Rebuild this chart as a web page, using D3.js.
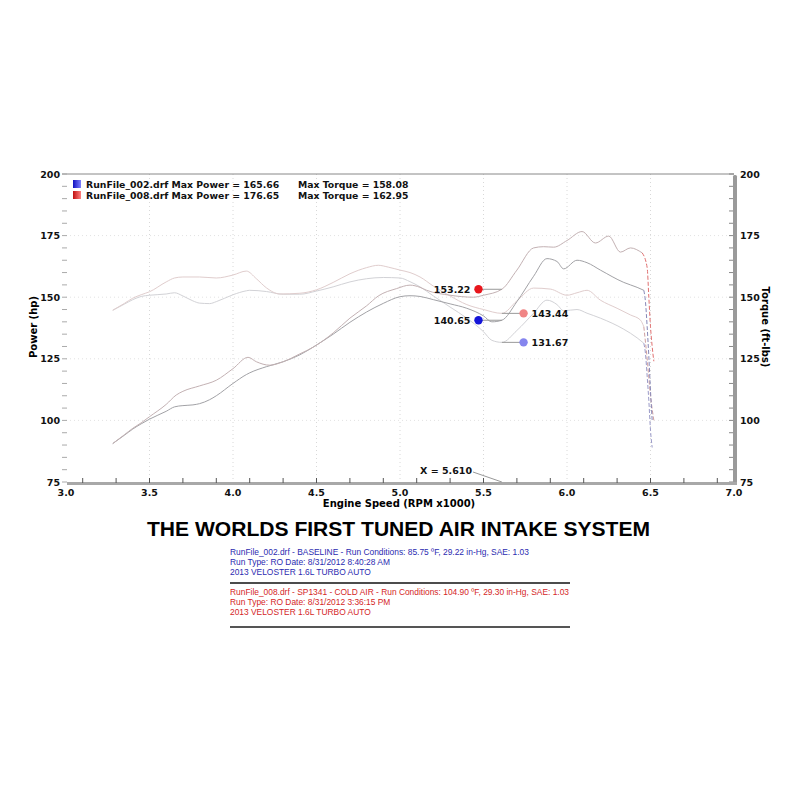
<!DOCTYPE html>
<html><head><meta charset="utf-8">
<script src="https://cdn.jsdelivr.net/npm/d3@7"></script>
<style>body{margin:0;background:#fff}</style>
</head><body><svg id="c" width="800" height="800"></svg>
<script>
// ---- data ----
const baselineRpm    = [3.28,3.35,3.4,3.45,3.5,3.6,3.65,3.7,3.76,3.8,3.86,3.9,4.0,4.08,4.1,4.2,4.3,4.4,4.5,4.6,4.7,4.8,4.9,5.0,5.06,5.12,5.2,5.3,5.4,5.5,5.55,5.61,5.7,5.8,5.88,5.94,5.98,6.06,6.12,6.2,6.34,6.42,6.46,6.47,6.48,6.49,6.5,6.51];
const baselinePower  = [90.6,94,96.5,98.6,100.5,103.7,105.5,106,106.3,106.8,108.4,110,115,118.6,119.3,121.8,123.8,126.6,130.6,135,139.8,144,147.5,150.2,150.6,150.3,149,147.3,145.5,142.4,140,140.65,148.2,158.5,165.66,164.5,161.5,165,164,161,156,154,152.8,148,138,126,112,100];
const baselineTorque = [144.7,147.2,149,150.3,150.8,151.3,151.8,150.5,148.5,147.6,147.4,148.2,151,152.6,152.8,152.3,151.2,151.2,152.5,154.2,156.2,157.5,158,157.8,156.3,154.2,150.5,146,141.5,136,132.5,131.67,136.5,143.5,148.8,147,144.5,145,143.5,141.5,137,133.5,131.3,127,118,108,96,89];

const coldPowerRpm   = [3.28,3.35,3.4,3.45,3.5,3.6,3.66,3.7,3.8,3.9,4.0,4.09,4.14,4.22,4.3,4.4,4.48,4.6,4.7,4.8,4.87,4.98,5.06,5.12,5.16,5.3,5.44,5.5,5.61,5.7,5.8,5.86,5.92,6.0,6.09,6.17,6.25,6.32,6.38,6.45,6.48,6.49,6.5,6.51,6.52];
const coldPower      = [90.6,94.2,96.8,99,101.5,106.5,110.3,111.8,114,116.3,121,125.6,123.8,122.4,123.8,127,129.7,135.5,141.5,146.5,150.5,153.5,154.9,154,152.8,150.8,150,150.8,153.22,161,170,170.5,170.3,173,176.65,172,174.8,168.3,170,168,162,150,138,130,124];
const coldTorqueRpm  = [3.28,3.35,3.4,3.45,3.5,3.6,3.65,3.7,3.8,3.9,4.0,4.08,4.14,4.2,4.28,4.4,4.5,4.6,4.7,4.8,4.87,4.93,5.0,5.06,5.12,5.2,5.3,5.4,5.5,5.61,5.7,5.8,5.9,6.0,6.06,6.12,6.2,6.3,6.38,6.44,6.46,6.48,6.5,6.52];
const coldTorque     = [144.7,147.5,149.6,151,152.2,156.2,157.8,158.2,158.2,157.8,159,160.6,157.5,153.8,151.3,151.6,153,156,159.5,162,162.95,162.2,161,160,158.2,154.5,150.5,147,145,143.44,148.5,153.7,153.3,150.8,151.8,152.8,148.8,145.5,142.8,140.7,138,125,110,100];

const xTicks = [3.0,3.5,4.0,4.5,5.0,5.5,6.0,6.5,7.0];
const yTicks = [75,100,125,150,175,200];

const cursorRpm = 5.61;
const markerLeftRpm = 5.47, markerRightRpm = 5.74;
const markerValues = [
  {v:153.22, side:"left",  color:"#e8161c"},
  {v:140.65, side:"left",  color:"#1515d8"},
  {v:143.44, side:"right", color:"#f08585"},
  {v:131.67, side:"right", color:"#8585ee"}
];
const legendRows = [
  {file:"RunFile_002.drf", power:"165.66", torque:"158.08", c1:"#1010c0", c2:"#8080ff"},
  {file:"RunFile_008.drf", power:"176.65", torque:"162.95", c1:"#c01010", c2:"#ff8080"}
];
const title = "THE WORLDS FIRST TUNED AIR INTAKE SYSTEM";
const infoBlue = ["RunFile_002.drf - BASELINE  -  Run Conditions: 85.75 ºF, 29.22 in-Hg, SAE: 1.03","Run Type: RO  Date: 8/31/2012 8:40:28 AM","2013 VELOSTER 1.6L TURBO AUTO"];
const infoRed  = ["RunFile_008.drf - SP1341 - COLD AIR   -  Run Conditions: 104.90 ºF, 29.30 in-Hg, SAE: 1.03","Run Type: RO  Date: 8/31/2012 3:36:15 PM","2013 VELOSTER 1.6L TURBO AUTO"];

// ---- drawing ----
const svg = d3.select("#c");
const x = d3.scaleLinear().domain([3,7]).range([66,734]);
const y = d3.scaleLinear().domain([75,200]).range([482,174]);
const F = "'DejaVu Sans', Verdana, sans-serif";

svg.append("rect").attr("width",800).attr("height",800).attr("fill","#fff");

// grid
const g = svg.append("g");
g.selectAll(".vg").data(xTicks.slice(1,-1)).join("line")
  .attr("x1",d=>x(d)).attr("x2",d=>x(d)).attr("y1",y(200)).attr("y2",y(75))
  .attr("stroke","#d8d8d8").attr("stroke-dasharray","1,3");
g.selectAll(".hg").data(yTicks.slice(1,-1)).join("line")
  .attr("x1",x(3)).attr("x2",x(7)).attr("y1",d=>y(d)).attr("y2",d=>y(d))
  .attr("stroke","#e2e2e2").attr("stroke-dasharray","1,3");

// top border
svg.append("line").attr("x1",62).attr("x2",x(7)).attr("y1",y(200)).attr("y2",y(200)).attr("stroke","#888").attr("stroke-width",1);

// left minor ticks
const minor = d3.range(75,201,5);
svg.selectAll(".lt").data(minor).join("line")
  .attr("x1",62).attr("x2",67).attr("y1",d=>y(d)).attr("y2",d=>y(d))
  .attr("stroke","#aaa");
// right ticks
svg.selectAll(".rt").data(minor).join("line")
  .attr("x1",x(7)-5).attr("x2",x(7)).attr("y1",d=>y(d)).attr("y2",d=>y(d))
  .attr("stroke","#888");

// right and bottom thick axes
svg.append("rect").attr("x",x(7)-1).attr("y",y(200)+1).attr("width",4).attr("height",y(75)-y(200)+2).attr("fill","#9a9a9a").attr("rx",1.5);
svg.append("rect").attr("x",x(3)+1).attr("y",y(75)).attr("width",x(7)-x(3)+2).attr("height",3).attr("fill","#a8a8a8");
// bottom ticks
svg.selectAll(".bt").data(d3.range(3.1,7.0,0.2)).join("line")
  .attr("x1",d=>x(d)).attr("x2",d=>x(d)).attr("y1",y(75)-4).attr("y2",y(75)+1)
  .attr("stroke","#555");

// tick labels
svg.selectAll(".xl").data(xTicks).join("text")
  .attr("x",d=>x(d)).attr("y",496).attr("text-anchor","middle")
  .attr("font-family",F).attr("font-weight","bold").attr("font-size",9.5).attr("fill","#111")
  .text(d=>d.toFixed(1));
svg.selectAll(".yl").data(yTicks).join("text")
  .attr("x",60).attr("y",d=>y(d)+3.5).attr("text-anchor","end")
  .attr("font-family",F).attr("font-weight","bold").attr("font-size",9.5).attr("fill","#111")
  .text(d=>d);
svg.selectAll(".yr").data(yTicks).join("text")
  .attr("x",740).attr("y",d=>y(d)+3.5).attr("text-anchor","start")
  .attr("font-family",F).attr("font-weight","bold").attr("font-size",9.5).attr("fill","#111")
  .text(d=>d);

// axis titles
svg.append("text").attr("transform","translate(37,327) rotate(-90)").attr("text-anchor","middle")
  .attr("font-family",F).attr("font-weight","bold").attr("font-size",10).text("Power (hp)");
svg.append("text").attr("transform","translate(762,327) rotate(90)").attr("text-anchor","middle")
  .attr("font-family",F).attr("font-weight","bold").attr("font-size",10).text("Torque (ft-lbs)");
svg.append("text").attr("x",399).attr("y",507).attr("text-anchor","middle")
  .attr("font-family",F).attr("font-weight","bold").attr("font-size",10).text("Engine Speed (RPM x1000)");

// curves: solid body, dashed steep tail after the top-end roll-off
const line = d3.line().x(d=>x(d[0])).y(d=>y(d[1])).curve(d3.curveMonotoneX);
const tailStart = 6.46;
const series = [
  {rpm:baselineRpm, v:baselineTorque, color:"#d2d2d6", tail:"#9a9ac8"},
  {rpm:coldTorqueRpm, v:coldTorque, color:"#e0cdcd", tail:"#d0a0a0"},
  {rpm:baselineRpm, v:baselinePower, color:"#a2a2a6", tail:"#8888b8"},
  {rpm:coldPowerRpm, v:coldPower, color:"#c3b1b3", tail:"#e07070"}
];
series.forEach(s=>{
  const pts = s.rpm.map((r,i)=>[r,s.v[i]]);
  const body = pts.filter(p=>p[0]<=tailStart);
  const tail = [body[body.length-1]].concat(pts.filter(p=>p[0]>tailStart));
  svg.append("path").datum(body)
    .attr("d",line).attr("fill","none").attr("stroke",s.color).attr("stroke-width",1);
  svg.append("path").datum(tail)
    .attr("d",line).attr("fill","none").attr("stroke",s.tail).attr("stroke-width",1)
    .attr("stroke-dasharray","4,2");
});

// cursor markers
markerValues.forEach(m=>{
  const mx = x(m.side==="left"?markerLeftRpm:markerRightRpm);
  svg.append("line").attr("x1",mx).attr("x2",x(cursorRpm)).attr("y1",y(m.v)).attr("y2",y(m.v))
    .attr("stroke","#999").attr("stroke-width",1);
  svg.append("circle").attr("cx",mx).attr("cy",y(m.v)).attr("r",4.2).attr("fill",m.color);
  svg.append("text").attr("x",m.side==="left"?mx-8:mx+8).attr("y",y(m.v)+3.5)
    .attr("text-anchor",m.side==="left"?"end":"start")
    .attr("font-family",F).attr("font-weight","bold").attr("font-size",9.5).attr("fill","#111")
    .text(m.v.toFixed(2));
});
svg.append("text").attr("x",472).attr("y",474).attr("text-anchor","end")
  .attr("font-family",F).attr("font-weight","bold").attr("font-size",9.5).attr("fill","#111")
  .text("X = " + cursorRpm.toFixed(3));
svg.append("line").attr("x1",473).attr("y1",472).attr("x2",x(cursorRpm)).attr("y2",y(75))
  .attr("stroke","#999");

// legend
const defs = svg.append("defs");
legendRows.forEach((r,i)=>{
  const gid = "lg"+i;
  const gr = defs.append("linearGradient").attr("id",gid);
  gr.append("stop").attr("offset","0%").attr("stop-color",r.c1);
  gr.append("stop").attr("offset","100%").attr("stop-color",r.c2);
  const yy = 188 + i*11;
  svg.append("rect").attr("x",73).attr("y",yy-8).attr("width",8).attr("height",8).attr("fill","url(#"+gid+")");
  svg.append("text").attr("x",86).attr("y",yy).attr("font-family",F).attr("font-weight","bold")
    .attr("font-size",9.3).attr("fill","#111").text(r.file+" Max Power = "+r.power);
  svg.append("text").attr("x",298).attr("y",yy).attr("font-family",F).attr("font-weight","bold")
    .attr("font-size",9.3).attr("fill","#111").text("Max Torque = "+r.torque);
});

// title
svg.append("text").attr("x",147).attr("y",536).attr("textLength",503).attr("lengthAdjust","spacingAndGlyphs")
  .attr("font-family","'Liberation Sans', Arial, sans-serif").attr("font-weight","bold").attr("font-size",20.5)
  .attr("fill","#000").text(title);

// info block: uniform horizontal compression so the first lines fit their measured widths
const IF = "'Liberation Sans', Arial, sans-serif";
function infoLines(lines, y0, color){
  return lines.map((t,i)=>svg.append("text").attr("x",230).attr("y",y0+i*10)
    .attr("font-family",IF).attr("font-size",9.5).attr("fill",color).text(t));
}
const bl = infoLines(infoBlue,555,"#2b2bb0");
const rl = infoLines(infoRed,595,"#d42626");
const k = ((298/bl[0].node().getComputedTextLength()) + (340/rl[0].node().getComputedTextLength()))/2;
bl.concat(rl).forEach(t=>{
  const w = t.node().getComputedTextLength();
  t.attr("textLength",w*k).attr("lengthAdjust","spacingAndGlyphs");
});
svg.append("line").attr("x1",230).attr("x2",570).attr("y1",583).attr("y2",583).attr("stroke","#111").attr("stroke-width",1.3);
svg.append("line").attr("x1",230).attr("x2",570).attr("y1",627).attr("y2",627).attr("stroke","#555").attr("stroke-width",2);
</script></body></html>
